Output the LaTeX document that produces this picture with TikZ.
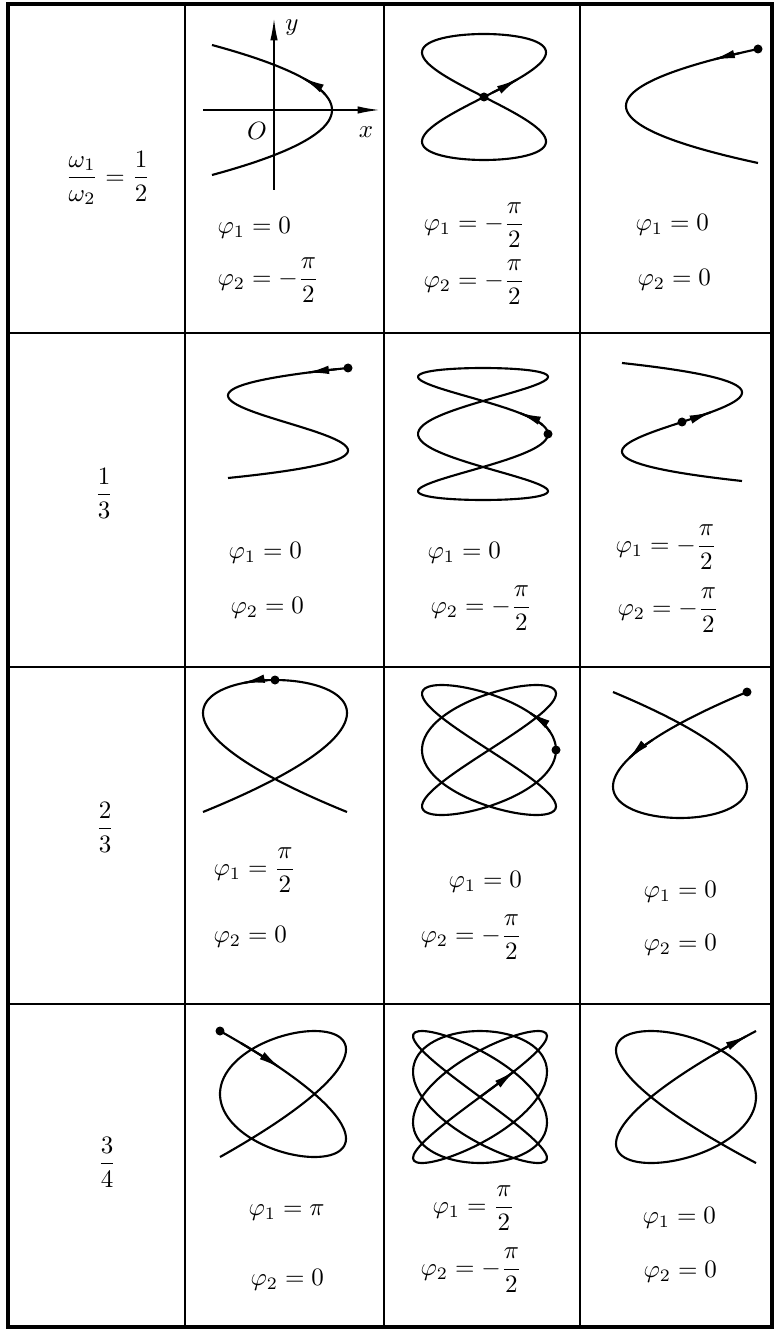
\documentclass[tikz,border=0pt]{standalone}
\usepackage{amsmath}
\usetikzlibrary{arrows.meta}

\begin{document}
\begin{tikzpicture}[
      x = 0.4pt, y = 0.4pt,
      font = \normalsize,
      curve/.style = {line width = 0.85pt, line join = round, smooth, samples = 160},
      dir/.style = {curve, samples = 12, -{Latex[length = 9pt, width = 3.4pt]}},
      rdir/.style = {curve, samples = 12, {Latex[length = 9pt, width = 3.4pt]}-},
      axis/.style = {line width = 0.7pt, -{Latex[length = 9pt, width = 3pt]}},
      rule/.style = {line width = 0.8pt},
      lbl/.style = {anchor = west, inner sep = 0pt},
    ]
    \useasboundingbox (0,0) rectangle (776,-1330);

    % table
    \draw[line width = 1.6pt] (8,-4) rectangle (772,-1327);
    \foreach \c in {185,384,580}
      \draw[rule] (\c,-4) -- (\c,-1327);
    \foreach \r in {333,667,1004}
      \draw[rule] (8,-\r) -- (772,-\r);

    % ratios
    \node (r1) at (108,-178) {$\dfrac{\omega_1}{\omega_2}=\dfrac{1}{2}$};
    \node (r2) at (104,-493) {$\dfrac{1}{3}$};
    \node (r3) at (105,-827) {$\dfrac{2}{3}$};
    \node (r4) at (107,-1162) {$\dfrac{3}{4}$};

    % row 1
    \coordinate (xs) at (203,-110);
    \coordinate (xe) at (380,-110);
    \coordinate (ys) at (274,-190);
    \coordinate (ye) at (274,-18);
    \draw[axis] (xs) -- (xe);
    \draw[axis] (ys) -- (ye);
    \node (o) at (257,-131) {$O$};
    \node (xl) at (366,-132) {$x$};
    \node (yl) at (292,-28) {$y$};
    \draw[curve] plot[domain=-90:90] ({272+60*cos(2*\x)},{-110+65*sin(\x)});
    \draw[dir] plot[domain=14:30] ({272+60*cos(2*\x)},{-110+65*sin(\x)});
    \node[lbl] (a11) at (217,-228) {$\varphi_1=0$};
    \node[lbl] (b11) at (217,-280) {$\varphi_2=-\dfrac{\pi}{2}$};

    \draw[curve] plot[domain=0:360] ({484+62*sin(2*\x)},{-97+63*sin(\x)});
    \draw[dir] plot[domain=4:17] ({484+62*sin(2*\x)},{-97+63*sin(\x)});
    \fill (484,-97) circle (1.8pt);
    \node[lbl] (a12) at (423,-225) {$\varphi_1=-\dfrac{\pi}{2}$};
    \node[lbl] (b12) at (423,-282) {$\varphi_2=-\dfrac{\pi}{2}$};

    \draw[curve] plot[domain=0:180] ({692+66*cos(2*\x)},{-106+57*cos(\x)});
    \draw[dir] plot[domain=22:36] ({692+66*cos(2*\x)},{-106+57*cos(\x)});
    \fill (758,-49) circle (1.8pt);
    \node[lbl] (a13) at (635,-225) {$\varphi_1=0$};
    \node[lbl] (b13) at (637,-280) {$\varphi_2=0$};

    % row 2
    \draw[curve] plot[domain=0:180] ({288+60*cos(3*\x)},{-423+55*cos(\x)});
    \draw[dir] plot[domain=12:24] ({288+60*cos(3*\x)},{-423+55*cos(\x)});
    \fill (348,-368) circle (1.8pt);
    \node[lbl] (a21) at (228,-553) {$\varphi_1=0$};
    \node[lbl] (b21) at (230,-608) {$\varphi_2=0$};

    \draw[curve] plot[domain=0:360] ({483+65*cos(3*\x)},{-434+66*sin(\x)});
    \draw[dir] plot[domain=8:19] ({483+65*cos(3*\x)},{-434+66*sin(\x)});
    \fill (548,-434) circle (1.8pt);
    \node[lbl] (a22) at (427,-553) {$\varphi_1=0$};
    \node[lbl] (b22) at (430,-608) {$\varphi_2=-\dfrac{\pi}{2}$};

    \draw[curve] plot[domain=-90:90] ({682+60*sin(3*\x)},{-422+59*sin(\x)});
    \draw[dir] plot[domain=3:10] ({682+60*sin(3*\x)},{-422+59*sin(\x)});
    \fill (682,-422) circle (1.8pt);
    \node[lbl] (a23) at (615,-547) {$\varphi_1=-\dfrac{\pi}{2}$};
    \node[lbl] (b23) at (617,-610) {$\varphi_2=-\dfrac{\pi}{2}$};

    % row 3
    \draw[curve] plot[domain=-90:90] ({275-72*sin(3*\x)},{-746+66*cos(2*\x)});
    \draw[dir] plot[domain=2:9] ({275-72*sin(3*\x)},{-746+66*cos(2*\x)});
    \fill (275,-680) circle (1.8pt);
    \node[lbl] (a31) at (213,-870) {$\varphi_1=\dfrac{\pi}{2}$};
    \node[lbl] (b31) at (213,-937) {$\varphi_2=0$};

    \draw[curve] plot[domain=0:360] ({489+67*cos(3*\x)},{-750+65*sin(2*\x)});
    \draw[dir] plot[domain=8:18] ({489+67*cos(3*\x)},{-750+65*sin(2*\x)});
    \fill (556,-750) circle (1.8pt);
    \node[lbl] (a32) at (448,-882) {$\varphi_1=0$};
    \node[lbl] (b32) at (420,-937) {$\varphi_2=-\dfrac{\pi}{2}$};

    \draw[curve] plot[domain=0:180] ({680+67*cos(3*\x)},{-755+63*cos(2*\x)});
    \draw[dir] plot[domain=38:47] ({680+67*cos(3*\x)},{-755+63*cos(2*\x)});
    \fill (747,-692) circle (1.8pt);
    \node[lbl] (a33) at (643,-892) {$\varphi_1=0$};
    \node[lbl] (b33) at (643,-945) {$\varphi_2=0$};

    % row 4
    \draw[curve] plot[domain=0:180] ({283-63*cos(4*\x)},{-1094+63*cos(3*\x)});
    \draw[dir] plot[domain=12:22] ({283-63*cos(4*\x)},{-1094+63*cos(3*\x)});
    \fill (220,-1031) circle (1.8pt);
    \node[lbl] (a41) at (248,-1213) {$\varphi_1=\pi$};
    \node[lbl] (b41) at (250,-1280) {$\varphi_2=0$};

    \draw[curve] plot[domain=0:360] ({480+67*sin(4*\x)},{-1097+66*sin(3*\x)});
    \draw[dir] plot[domain=0:8] ({480+67*sin(4*\x)},{-1097+66*sin(3*\x)});
    \node[lbl] (a42) at (432,-1208) {$\varphi_1=\dfrac{\pi}{2}$};
    \node[lbl] (b42) at (420,-1270) {$\varphi_2=-\dfrac{\pi}{2}$};

    \draw[curve] plot[domain=0:180] ({686+70*cos(4*\x)},{-1097+66*cos(3*\x)});
    \draw[rdir] plot[domain=7:17] ({686+70*cos(4*\x)},{-1097+66*cos(3*\x)});
    \node[lbl] (a43) at (642,-1218) {$\varphi_1=0$};
    \node[lbl] (b43) at (643,-1272) {$\varphi_2=0$};
  \end{tikzpicture}
\end{document}
